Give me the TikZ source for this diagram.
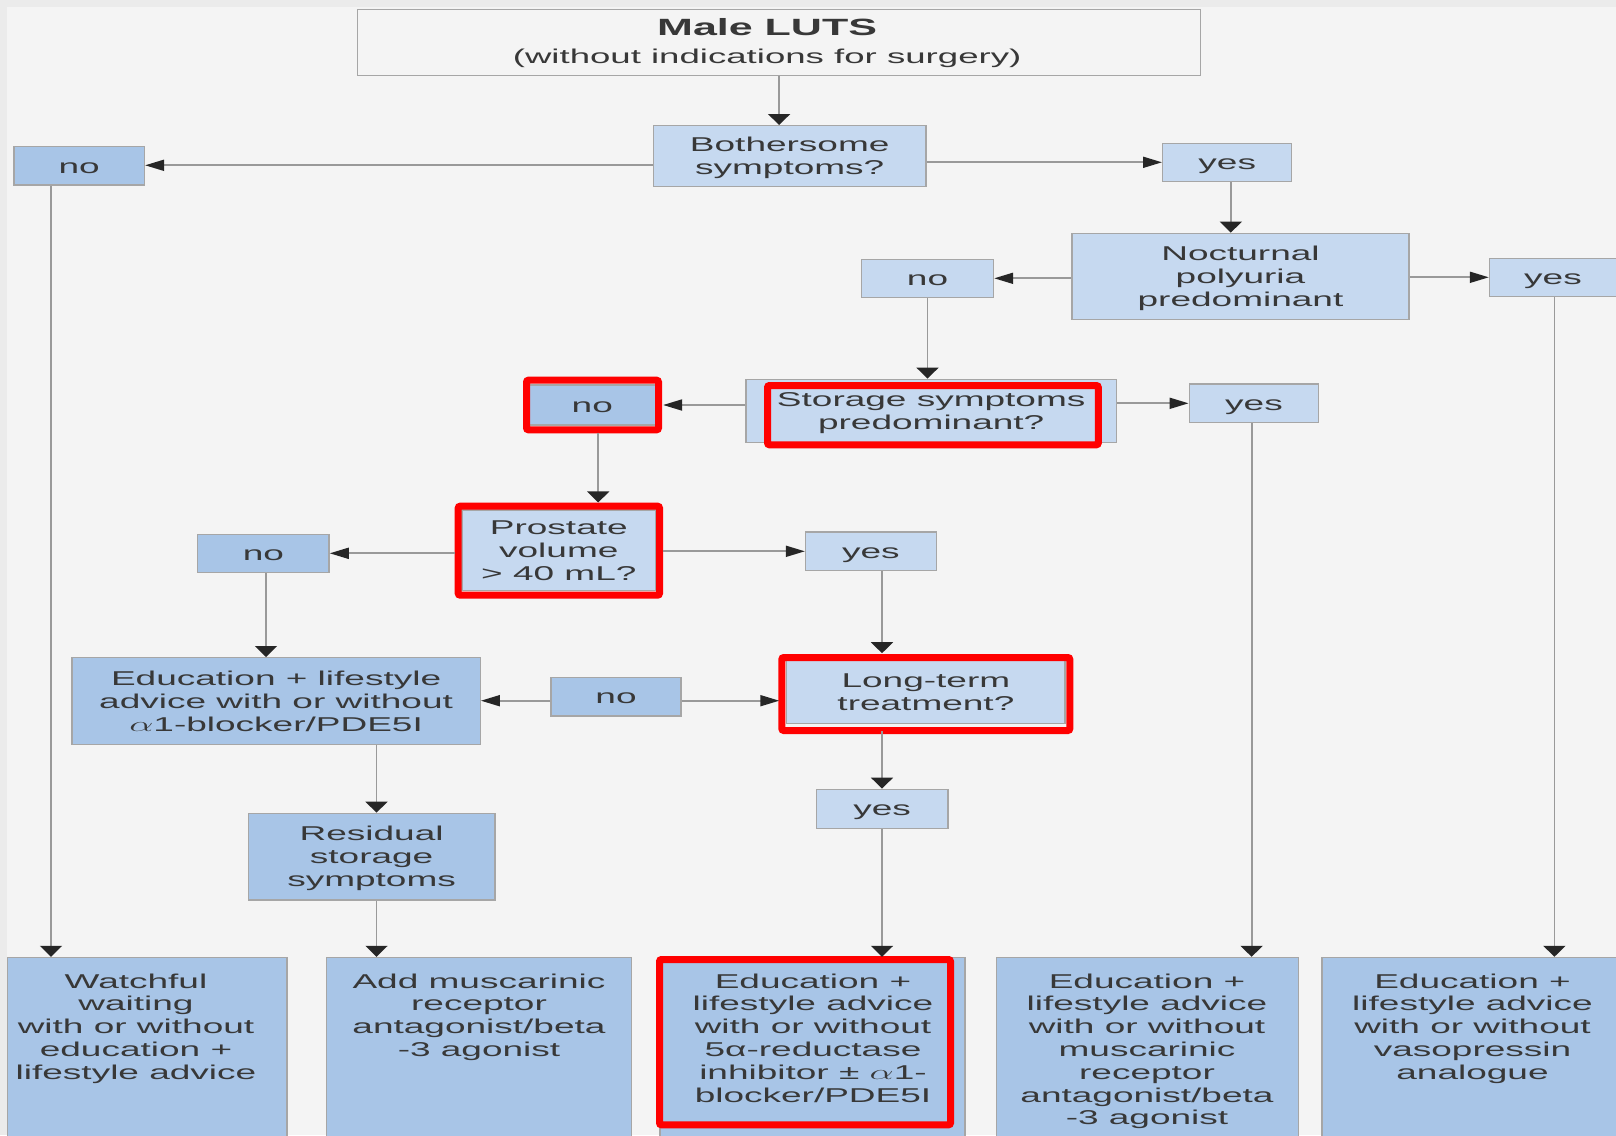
\documentclass[tikz,border=0pt]{standalone}
\usepackage{fontspec}
\setmainfont{Liberation Sans}
\usetikzlibrary{arrows.meta}
\definecolor{lblue}{HTML}{C6D9F0}
\definecolor{mblue}{HTML}{A8C5E7}
\definecolor{bgc}{HTML}{F4F4F4}
\definecolor{edgec}{HTML}{EBEBEB}
\definecolor{txtc}{HTML}{383838}
\newcommand{\txb}[1]{\scalebox{1.85}[1]{\begin{tabular}{@{}c@{}}#1\end{tabular}}}
\newcommand{\tx}[1]{\raisebox{-2.5pt}[\height][\depth]{\txb{#1}}}
\tikzset{
  bx/.style={draw=black!35, line width=1.4pt, inner sep=0pt, text=txtc,
    font=\fontsize{20}{23.1}\selectfont},
  lb/.style={bx, fill=lblue},
  mb/.style={bx, fill=mblue},
  hl/.style={outer sep=7.5pt},
  txt/.style={inner sep=0pt, text=txtc, font=\fontsize{20}{22.8}\selectfont},
  ln/.style={draw=black!40, line width=1.8pt},
  va/.style={ln, -{Triangle[length=11pt,width=22pt,color=black!85]}},
  ha/.style={ln, -{Triangle[length=19pt,width=11pt,color=black!85]}},
  rf/.style={draw=red, line width=7pt, rounded corners=2pt},
}
\begin{document}
\begin{tikzpicture}[x=1pt, y=-1pt]
\useasboundingbox (0,0) rectangle (1616,1135);
\clip (0,0) rectangle (1616,1135);
\fill[edgec] (0,0) rectangle (1616,1135);
\fill[bgc] (7,7) rectangle (1616,1135);

% boxes
\node[bx, fill=bgc, minimum width=843pt, minimum height=66.4pt] (title) at (779.1,42.5)
  {\hspace*{-24pt}\raisebox{-2pt}[\height][\depth]{\scalebox{1.83}[1]{\begin{tabular}{@{}c@{}}{\fontsize{23.5}{25}\bfseries Male LUTS}\\[4pt](without indications for surgery)\end{tabular}}}};
\node[lb, minimum width=272.6pt, minimum height=61pt] (both) at (789.7,156.2) {\tx{Bothersome\\symptoms?}};
\node[mb, minimum width=130.6pt, minimum height=38.3pt] (noTL) at (79.1,165.9) {\tx{no}};
\node[lb, minimum width=129pt, minimum height=38.4pt] (yesT) at (1227.2,162.5) {\tx{yes}};
\node[lb, minimum width=337pt, minimum height=86pt] (noct) at (1240.5,276.3) {\tx{Nocturnal\\polyuria\\predominant}};
\node[lb, minimum width=132pt, minimum height=38.4pt] (noNP) at (927.5,278.5) {\tx{no}};
\node[lb, minimum width=127pt, minimum height=38pt] (yesNP) at (1553,277.7) {\tx{yes}};
\node[lb, minimum width=370.3pt, minimum height=63.4pt] (stor) at (931.2,411) {\tx{Storage symptoms\\predominant?}};
\node[mb, hl, minimum width=126.6pt, minimum height=40pt] (noS) at (592.3,405) {\tx{no}};
\node[lb, minimum width=129.5pt, minimum height=38.7pt] (yesS) at (1254,403.3) {\tx{yes}};
\node[lb, hl, minimum width=193.6pt, minimum height=80.7pt] (pros) at (558.8,550.3) {\tx{Prostate\\volume\\> 40 mL?}};
\node[mb, minimum width=131.3pt, minimum height=38pt] (noP) at (263.4,553.3) {\tx{no}};
\node[lb, minimum width=130.7pt, minimum height=38.7pt] (yesP) at (870.9,551.3) {\tx{yes}};
\node[mb, minimum width=408.2pt, minimum height=86.6pt] (edA) at (276.1,701) {\tx{Education + lifestyle\\advice with or without\\$\alpha$1-blocker/PDE5I}};
\node[mb, minimum width=130pt, minimum height=38.7pt] (noM) at (616,696.7) {\tx{no}};
\node[lb, hl, minimum width=278.3pt, minimum height=62.6pt] (lt) at (925.9,692) {\tx{Long-term\\treatment?}};
\node[mb, minimum width=246.4pt, minimum height=86.7pt] (res) at (371.6,856.7) {\tx{Residual\\storage\\symptoms}};
\node[lb, minimum width=131.2pt, minimum height=39pt] (yesL) at (882.2,808.8) {\tx{yes}};

% bottom boxes
\node[mb, minimum width=279.7pt, minimum height=182.5pt] (ww) at (147.2,1048.75) {};
\node[mb, minimum width=304.9pt, minimum height=182.5pt] (am) at (478.9,1048.75) {};
\node[mb, minimum width=305pt, minimum height=182.5pt] (e5) at (812.5,1048.75) {};
\node[mb, minimum width=302.2pt, minimum height=182.5pt] (em) at (1147.3,1048.75) {};
\node[mb, minimum width=303pt, minimum height=182.5pt] (ev) at (1473.5,1048.75) {};
\node[txt, anchor=north] (wwt) at (136,972) {\txb{Watchful\\waiting\\with or without\\education +\\lifestyle advice}};
\node[txt, anchor=north] (amt) at (479,972) {\txb{Add muscarinic\\receptor\\antagonist/beta\\-3 agonist}};
\node[txt, anchor=north] (e5t) at (813,972) {\txb{Education +\\lifestyle advice\\with or without\\5α-reductase\\inhibitor ± $\alpha$1-\\blocker/PDE5I}};
\node[txt, anchor=north] (emt) at (1147,972) {\txb{Education +\\lifestyle advice\\with or without\\muscarinic\\receptor\\antagonist/beta\\-3 agonist}};
\node[txt, anchor=north] (evt) at (1472.5,972) {\txb{Education +\\lifestyle advice\\with or without\\vasopressin\\analogue}};

% helper coordinates
\coordinate (yB1) at (0,165.3);
\coordinate (yB2) at (0,162.3);
\coordinate (yN1) at (0,278.3);
\coordinate (yN2) at (0,277.3);
\coordinate (yM) at (0,700.7);
\coordinate (xT) at (1230.8,0);
\coordinate (xS) at (598.2,0);
\coordinate (xL) at (882,0);
\coordinate (xR) at (376.5,0);
\coordinate (xW) at (51,0);
\coordinate (xE) at (1251.6,0);
\coordinate (xV) at (1554.4,0);
\coordinate (xP) at (266,0);

% red highlight frames
\draw[rf] (526.5,380.2) rectangle (658.5,429.8);
\draw[rf] (767.5,385.5) rectangle (1098.3,444.8);
\draw[rf] (458.2,506.2) rectangle (659.5,595.2);
\draw[rf] (781.8,657.5) rectangle (1069.8,730.5);
\draw[rf] (659.5,959.5) rectangle (950.5,1124.8);

% connectors
\draw[va] (title.south) -- (title.south |- both.north);
\draw[ha] (both.west |- yB1) -- (noTL.east |- yB1);
\draw[ha] (both.east |- yB2) -- (yesT.west |- yB2);
\draw[va] (yesT.south -| xT) -- (noct.north -| xT);
\draw[ha] (noct.west |- yN1) -- (noNP.east |- yN1);
\draw[ha] (noct.east |- yN2) -- (yesNP.west |- yN2);
\draw[va] (noNP.south) -- (noNP.south |- stor.north);
\draw[ha] (stor.west |- noS.east) -- (noS.east);
\draw[ha] (stor.east |- yesS.west) -- (yesS.west);
\draw[va] (noS.south -| xS) -- (pros.north -| xS);
\draw[ha] (pros.west |- noP.east) -- (noP.east);
\draw[ha] (pros.east |- yesP.west) -- (yesP.west);
\draw[va] (noP.south -| xP) -- (edA.north -| xP);
\draw[va] (yesP.south -| xL) -- (lt.north -| xL);
\draw[ha] (noM.west |- yM) -- (edA.east |- yM);
\draw[ha] (noM.east |- yM) -- (lt.west |- yM);
\draw[va] (lt.south -| xL) -- (yesL.north -| xL);
\draw[va] (edA.south -| xR) -- (res.north -| xR);
\draw[va] (res.south -| xR) -- (am.north -| xR);
\draw[va] (yesL.south -| xL) -- (e5.north -| xL);
\draw[va] (noTL.south -| xW) -- (ww.north -| xW);
\draw[va] (yesS.south -| xE) -- (em.north -| xE);
\draw[va] (yesNP.south -| xV) -- (ev.north -| xV);
\end{tikzpicture}
\end{document}
